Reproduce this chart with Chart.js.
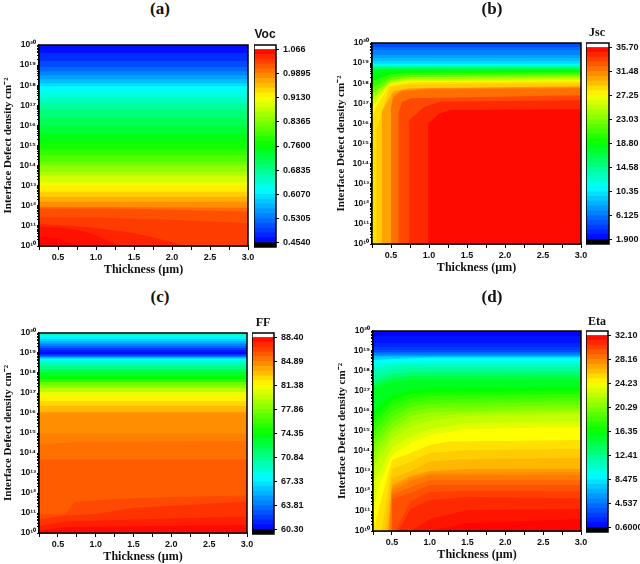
<!DOCTYPE html>
<html lang="en">
<head>
    <meta charset="UTF-8">
    <title>Thickness vs interface defect density</title>
    <script src="https://cdn.jsdelivr.net/npm/chart.js"></script>
    <style>
        body {
            margin: 0;
            background: #fff;
        }
        canvas, .label {
            position: absolute;
        }
        .label {
            transform: translate(-50%, -50%);
            font-family: "Liberation Serif", serif;
            font-weight: bold;
            color: #111;
            white-space: nowrap;
        }
    </style>
</head>
<body>

<script>
    // every band row is [value, thickness, exponent, thickness, exponent, ...]
    // a row with one exponent is a flat contour, painted top of plot first
    const vocBands = [
        [0.464, 20], [0.483, 19.6], [0.502, 19.2], [0.521, 18.9], [0.540, 18.7], [0.559, 18.5],
        [0.578, 18.3], [0.597, 18.1], [0.617, 17.95], [0.636, 17.7], [0.655, 17.4], [0.674, 17.1],
        [0.693, 16.8], [0.712, 16.4], [0.731, 16], [0.750, 15.6], [0.770, 15.2], [0.789, 14.8],
        [0.808, 14.5], [0.827, 14.2], [0.846, 14], [0.865, 13.7], [0.884, 13.5], [0.903, 13.2],
        [0.923, 13], [0.942, 12.7], [0.961, 12.45], [0.980, 12.2],
        [1.002, 0.25, 11.95, 3, 11.9],
        [1.018, 0.25, 11.87, 1.5, 11.85, 3, 11.7],
        [1.030, 0.25, 11.43, 1, 11.42, 1.5, 11.35, 2, 11.3, 3, 11.13],
        [1.045, 0.25, 11.09, 0.75, 10.98, 1, 10.9, 1.5, 10.65, 2, 10.2, 2.15, 10, 3, 10],
        [1.056, 0.25, 10.95, 0.5, 10.93, 0.75, 10.8, 1, 10.55, 1.3, 10, 3, 10],
        [1.064, 0.25, 10.5, 0.5, 10.35, 0.78, 10, 3, 10]
    ];
    const jscBands = [
        [4.60, 20], [5.62, 19.8], [6.63, 19.65], [7.65, 19.4], [8.66, 19.25], [9.67, 19.1], [10.69, 18.98],
        [12.04, 18.92], [14.07, 18.85], [16.10, 18.78], [17.79, 18.7],
        [18.80, 0.25, 18.45, 0.5, 18.6, 3, 18.62],
        [20.49, 0.25, 18.1, 0.5, 18.45, 0.75, 18.52, 3, 18.55],
        [22.18, 0.25, 17.75, 0.37, 18, 0.5, 18.3, 0.75, 18.42, 3, 18.45],
        [24.21, 0.25, 17.45, 0.37, 17.8, 0.5, 18.15, 0.75, 18.3, 3, 18.35],
        [25.90, 0.25, 17.2, 0.37, 17.6, 0.5, 18.05, 0.75, 18.2, 3, 18.25],
        [27.25, 0.25, 16.8, 0.31, 17.1, 0.48, 17.95, 0.75, 18.1, 3, 18.15],
        [28.26, 0.25, 16.2, 0.3, 16.8, 0.48, 17.9, 0.75, 18.05, 3, 18.1],
        [28.94, 0.25, 10, 0.31, 10, 0.31, 15.7, 0.48, 17.8, 0.75, 17.95, 3, 18],
        [30.29, 0.25, 10, 0.38, 10, 0.38, 16.6, 0.53, 17.6, 0.75, 17.75, 3, 17.85],
        [31.31, 0.25, 10, 0.5, 10, 0.5, 16.9, 0.53, 17.4, 0.64, 17.65, 1, 17.75, 3, 17.8],
        [31.98, 0.25, 10, 0.5, 10, 0.5, 16.7, 0.53, 17.26, 0.64, 17.58, 1, 17.7, 3, 17.75],
        [33.33, 0.25, 10, 0.6, 10, 0.6, 16.5, 0.64, 17.07, 0.77, 17.25, 3, 17.4],
        [34.35, 0.25, 10, 0.74, 10, 0.74, 16.17, 0.94, 16.83, 1.14, 17.08, 3, 17.15],
        [35.36, 0.25, 10, 0.99, 10, 0.99, 16, 1.14, 16.5, 1.29, 16.67, 3, 16.7]
    ];
    const ffBands = [
        [69.0, 20], [68.2, 19.88], [67.33, 19.78], [66.5, 19.7], [65.6, 19.6], [64.8, 19.5], [63.95, 19.42],
        [63.1, 19.34], [62.0, 19.25], [61.1, 19.15], [60.6, 19.05],
        [61.7, 18.95], [63.7, 18.88], [65.9, 18.8], [67.9, 18.72], [69.0, 18.62], [70.1, 18.5], [71.0, 18.35],
        [72.1, 18.2], [73.2, 18.05], [74.35, 17.85], [75.5, 17.7], [77.2, 17.55], [78.3, 17.4], [79.4, 17.25],
        [80.8, 17.05], [81.7, 16.85], [82.5, 16.6], [83.3, 16.35], [84.2, 16.05], [84.47, 15.95], [84.89, 14.97],
        [85.31, 0.25, 14.42, 0.75, 14.55, 3, 14.6],
        [85.87, 13.67],
        [86.43, 0.25, 10.92, 0.6, 10.95, 0.72, 11.55, 1.5, 11.75, 3, 11.87],
        [87.0, 0.25, 10.67, 0.6, 10.87, 1, 10.95, 1.5, 11.25, 3, 11.58],
        [87.56, 0.25, 10.35, 0.6, 10.58, 3, 10.83],
        [88.12, 0.25, 10.1, 0.6, 10.3, 3, 10.4]
    ];
    const etaBands = [
        [0.7, 20], [1.23, 19.75], [1.86, 19.4], [2.49, 19.2], [3.12, 19.05], [4.07, 18.95], [5.01, 18.87],
        [6.27, 18.78], [7.53, 18.72],
        [9.1, 0.25, 18.55, 0.5, 18.6, 1, 18.68, 3, 18.68],
        [10.05, 0.25, 18.35, 0.5, 18.45, 1, 18.5, 3, 18.5],
        [11.0, 0.25, 18.1, 0.5, 18.3, 0.75, 18.38, 3, 18.38],
        [11.94, 0.25, 17.85, 0.5, 18.1, 1, 18.2, 3, 18.2],
        [13.2, 0.25, 17.5, 0.5, 17.85, 0.75, 17.95, 3, 17.97],
        [14.46, 0.25, 17.35, 0.5, 17.65, 0.75, 17.75, 3, 17.8],
        [15.41, 0.25, 17.2, 0.5, 17.45, 0.75, 17.55, 3, 17.6],
        [16.35, 0.25, 16, 0.5, 16.8, 0.75, 17.05, 1, 17.15, 3, 17.2],
        [17.14, 0.25, 15.65, 0.5, 16.55, 0.75, 16.85, 1, 16.95, 3, 17.02],
        [17.93, 0.25, 15.3, 0.5, 16.3, 0.75, 16.65, 1, 16.75, 3, 16.85],
        [18.7, 0.25, 14.95, 0.5, 16, 0.75, 16.42, 1, 16.55, 3, 16.68],
        [19.5, 0.25, 14.6, 0.5, 15.7, 0.75, 16.2, 1, 16.35, 3, 16.5],
        [20.29, 0.25, 14.25, 0.5, 15.4, 0.75, 15.98, 1, 16.15, 3, 16.3],
        [21.08, 0.25, 13.9, 0.5, 15.1, 0.75, 15.75, 1, 15.95, 3, 16.1],
        [21.7, 0.25, 13.55, 0.5, 14.85, 0.75, 15.48, 1, 15.72, 1.5, 15.9, 3, 15.98],
        [22.34, 0.25, 13.2, 0.5, 14.6, 0.75, 15.2, 1, 15.5, 1.5, 15.75, 3, 15.85],
        [23.28, 0.25, 12.4, 0.5, 14.2, 0.75, 14.75, 1, 15.1, 1.5, 15.4, 3, 15.5],
        [24.23, 0.25, 11, 0.33, 12.3, 0.5, 13.8, 0.75, 14.4, 1, 14.8, 1.5, 15.1, 3, 15.2],
        [25.17, 0.25, 10, 0.5, 13.55, 0.75, 13.9, 1, 14.3, 1.25, 14.47, 3, 14.55],
        [25.8, 0.25, 10, 0.36, 10, 0.5, 13.1, 0.75, 13.45, 1, 13.9, 1.5, 14.05, 3, 14.1],
        [26.43, 0.25, 10, 0.41, 10, 0.5, 12.63, 0.75, 13, 1, 13.47, 1.5, 13.6, 3, 13.65],
        [27.38, 0.25, 10, 0.45, 10, 0.5, 12.3, 0.75, 12.75, 1, 13, 1.5, 13.1, 3, 13.1],
        [27.85, 0.25, 10, 0.46, 10, 0.5, 12.15, 0.75, 12.62, 1, 12.9, 3, 12.95],
        [28.32, 0.25, 10, 0.47, 10, 0.5, 12, 0.75, 12.5, 1, 12.8, 3, 12.8],
        [28.95, 0.25, 10, 0.49, 10, 0.5, 11.8, 0.75, 12.2, 1, 12.55, 3, 12.55],
        [29.58, 0.25, 10, 0.5, 10, 0.5, 11.6, 0.75, 11.9, 1, 12.3, 3, 12.3],
        [30.2, 0.25, 10, 0.54, 10, 0.75, 11.5, 1, 11.95, 1.5, 12, 3, 11.98],
        [30.84, 0.25, 10, 0.58, 10, 0.75, 11.1, 1, 11.55, 1.5, 11.7, 3, 11.63],
        [31.47, 0.25, 10, 0.75, 10, 1, 10.6, 1.5, 11.05, 3, 11.1],
        [31.94, 0.25, 10, 1, 10, 1.5, 10.4, 3, 10.6]
    ];

    const vocBarLabels = ["1.066", "0.9895", "0.9130", "0.8365", "0.7600", "0.6835", "0.6070", "0.5305", "0.4540"];
    const jscBarLabels = ["35.70", "31.48", "27.25", "23.03", "18.80", "14.58", "10.35", "6.125", "1.900"];
    const ffBarLabels = ["88.40", "84.89", "81.38", "77.86", "74.35", "70.84", "67.33", "63.81", "60.30"];
    const etaBarLabels = ["32.10", "28.16", "24.23", "20.29", "16.35", "12.41", "8.475", "4.537", "0.6000"];

    const thicknessTicks = [0.5, 1.0, 1.5, 2.0, 2.5, 3.0];
    const defectExponents = [10, 11, 12, 13, 14, 15, 16, 17, 18, 19, 20];
    const rainbowStops = [[0, 0, 0, 255], [0.27, 0, 255, 255], [0.5, 0, 255, 0], [0.75, 255, 255, 0], [1, 255, 0, 0]];

    const panels = [
        {
            letter: "(a)", name: "Voc", bands: vocBands, barLabels: vocBarLabels, nameFont: "Liberation Sans",
            plot: {left: 39, right: 248, top: 45, bottom: 246},
            bar: {left: 254, right: 276, top: 45, bottom: 247},
            letterAt: [160, 9], nameAt: [265, 34]
        },
        {
            letter: "(b)", name: "Jsc", bands: jscBands, barLabels: jscBarLabels, nameFont: "Liberation Serif",
            plot: {left: 372, right: 581, top: 43, bottom: 244},
            bar: {left: 586, right: 609, top: 43, bottom: 244},
            letterAt: [492, 9], nameAt: [597, 32]
        },
        {
            letter: "(c)", name: "FF", bands: ffBands, barLabels: ffBarLabels, nameFont: "Liberation Serif",
            plot: {left: 39, right: 247, top: 333, bottom: 533},
            bar: {left: 252, right: 274, top: 333, bottom: 534},
            letterAt: [160, 297], nameAt: [263, 322]
        },
        {
            letter: "(d)", name: "Eta", bands: etaBands, barLabels: etaBarLabels, nameFont: "Liberation Serif",
            plot: {left: 373, right: 581, top: 331, bottom: 531},
            bar: {left: 586, right: 608, top: 331, bottom: 532},
            letterAt: [492, 297], nameAt: [597, 321]
        }
    ];

    const SUPER = "⁰¹²³⁴⁵⁶⁷⁸⁹";
    const sansBold = size => ({family: "'Liberation Sans', sans-serif", weight: "bold", size: size});
    const serifBold = size => ({family: "'Liberation Serif', serif", weight: "bold", size: size});

    function rainbow(t) {
        t = Math.min(1, Math.max(0, t));
        let i = 1;
        while (i < rainbowStops.length - 1 && t > rainbowStops[i][0]) i++;
        const a = rainbowStops[i - 1], b = rainbowStops[i];
        const f = (t - a[0]) / (b[0] - a[0]);
        const c = [1, 2, 3].map(k => Math.round(a[k] + (b[k] - a[k]) * f));
        return `rgb(${c[0]}, ${c[1]}, ${c[2]})`;
    }

    function bandPoints(row) {
        if (row.length === 2) {
            return [{x: 0.25, y: Math.pow(10, row[1])}, {x: 3, y: Math.pow(10, row[1])}];
        }
        const points = [];
        for (let i = 1; i < row.length; i += 2) {
            points.push({x: row[i], y: Math.pow(10, row[i + 1])});
        }
        return points;
    }

    // black box round the plotting area
    const framePlugin = {
        id: "frame",
        afterDraw(chart) {
            const {ctx, chartArea: a} = chart;
            ctx.save();
            ctx.strokeStyle = "#000";
            ctx.lineWidth = 1.5;
            ctx.strokeRect(a.left, a.top, a.right - a.left, a.bottom - a.top);
            ctx.restore();
        }
    };

    function addCanvas(left, top, width, height) {
        const canvas = document.createElement("canvas");
        canvas.width = width;
        canvas.height = height;
        canvas.style.left = left + "px";
        canvas.style.top = top + "px";
        document.body.appendChild(canvas);
        return canvas.getContext("2d");
    }

    function addLabel(text, at, font, size) {
        const div = document.createElement("div");
        div.className = "label";
        div.textContent = text;
        div.style.left = at[0] + "px";
        div.style.top = at[1] + "px";
        div.style.fontFamily = `"${font}"`;
        div.style.fontSize = size + "px";
        document.body.appendChild(div);
    }

    function drawContour(p) {
        const values = p.barLabels.map(Number);
        const max = values[0], min = values[values.length - 1];
        const {plot} = p;
        const axisW = 39, axisH = 36;
        const boxLeft = plot.left - axisW;
        const boxTop = plot.top - 8;
        const boxW = plot.right - boxLeft + 10;
        const boxH = plot.bottom + axisH - boxTop;

        // Chart.js paints the first dataset last, so the list is reversed
        const datasets = p.bands.map(row => ({
            data: bandPoints(row),
            showLine: true,
            fill: "start",
            backgroundColor: rainbow((row[0] - min) / (max - min)),
            borderWidth: 0,
            pointRadius: 0
        })).reverse();

        new Chart(addCanvas(boxLeft, boxTop, boxW, boxH), {
            type: "scatter",
            data: {datasets: datasets},
            options: {
                responsive: false,
                animation: false,
                layout: {padding: {top: 8, right: 10, left: 0, bottom: 0}},
                plugins: {legend: {display: false}, tooltip: {enabled: false}},
                scales: {
                    x: {
                        type: "linear",
                        min: 0.25,
                        max: 3,
                        afterBuildTicks(scale) {
                            scale.ticks = [];
                            for (let v = 0.25; v <= 3; v += 0.25) scale.ticks.push({value: v});
                        },
                        afterFit(scale) {
                            scale.height = axisH;
                            scale.paddingLeft = 0;
                            scale.paddingRight = 0;
                        },
                        grid: {display: true, drawOnChartArea: false, color: "#000", tickLength: 4, tickWidth: 1},
                        border: {color: "#000", width: 1.5},
                        ticks: {
                            autoSkip: false,
                            maxRotation: 0,
                            padding: 2,
                            color: "#111",
                            font: sansBold(9),
                            callback: v => thicknessTicks.includes(v) ? v.toFixed(1) : ""
                        },
                        title: {
                            display: true,
                            text: "Thickness (µm)",
                            color: "#111",
                            font: serifBold(12),
                            padding: {top: 0, bottom: 5}
                        }
                    },
                    y: {
                        type: "logarithmic",
                        min: 1e10,
                        max: 1e20,
                        afterBuildTicks(scale) {
                            scale.ticks = [];
                            defectExponents.forEach(e => {
                                scale.ticks.push({value: Math.pow(10, e), major: true, exp: e});
                                if (e < 20) {
                                    for (let s = 2; s < 10; s++) scale.ticks.push({value: s * Math.pow(10, e)});
                                }
                            });
                        },
                        afterFit(scale) {
                            scale.width = axisW;
                            scale.paddingTop = 0;
                            scale.paddingBottom = 0;
                        },
                        grid: {display: true, drawOnChartArea: false, color: "#000", tickLength: 2, tickWidth: 1},
                        border: {color: "#000", width: 1.5},
                        ticks: {
                            autoSkip: false,
                            padding: 1,
                            color: "#111",
                            font: sansBold(8.5),
                            callback(value, index, ticks) {
                                const e = ticks[index].exp;
                                if (e === undefined) return "";
                                return "10" + String(e).split("").map(d => SUPER[+d]).join("");
                            }
                        },
                        title: {
                            display: true,
                            text: "Interface Defect density cm⁻²",
                            color: "#111",
                            font: serifBold(11),
                            padding: {top: 2, bottom: 0}
                        }
                    }
                }
            },
            plugins: [framePlugin]
        });
    }

    function drawColorBar(p) {
        const {bar, barLabels} = p;
        const values = barLabels.map(Number);
        const max = values[0], min = values[values.length - 1];
        const margin = (max - min) * 0.023;
        const padY = 6;
        const barW = bar.right - bar.left;
        const width = Math.min(640 - bar.left, 70);

        const steps = 40;
        const labels = [""];
        const datasets = [];
        const bandSize = (max - min) / steps;
        datasets.push({data: [[min - margin, min]], backgroundColor: "#000"});
        for (let i = 0; i < steps; i++) {
            datasets.push({
                data: [[min + i * bandSize, min + (i + 1) * bandSize]],
                backgroundColor: rainbow((i + 0.5) / steps)
            });
        }
        datasets.push({data: [[max, max + margin]], backgroundColor: "#fff"});

        new Chart(addCanvas(bar.left, bar.top - padY, width, bar.bottom - bar.top + padY * 2), {
            type: "bar",
            data: {labels: labels, datasets: datasets},
            options: {
                responsive: false,
                animation: false,
                layout: {padding: {top: padY, bottom: padY, left: 0, right: 0}},
                plugins: {legend: {display: false}, tooltip: {enabled: false}},
                datasets: {bar: {barPercentage: 1, categoryPercentage: 1, borderWidth: 0}},
                scales: {
                    x: {display: false, stacked: true},
                    y: {
                        position: "right",
                        min: min - margin,
                        max: max + margin,
                        afterBuildTicks(scale) {
                            scale.ticks = values.map(v => ({value: v}));
                        },
                        afterFit(scale) {
                            scale.width = width - barW;
                            scale.paddingTop = 0;
                            scale.paddingBottom = 0;
                        },
                        grid: {display: true, drawOnChartArea: false, color: "#000", tickLength: 3, tickWidth: 1},
                        border: {display: false},
                        ticks: {
                            autoSkip: false,
                            padding: 4,
                            color: "#111",
                            font: sansBold(9),
                            callback: (v, i) => barLabels[i]
                        }
                    }
                }
            },
            plugins: [framePlugin]
        });
    }

    panels.forEach(p => {
        drawContour(p);
        drawColorBar(p);
        addLabel(p.letter, p.letterAt, "Liberation Serif", 17);
        addLabel(p.name, p.nameAt, p.nameFont, 12);
    });
</script>

</body>
</html>
